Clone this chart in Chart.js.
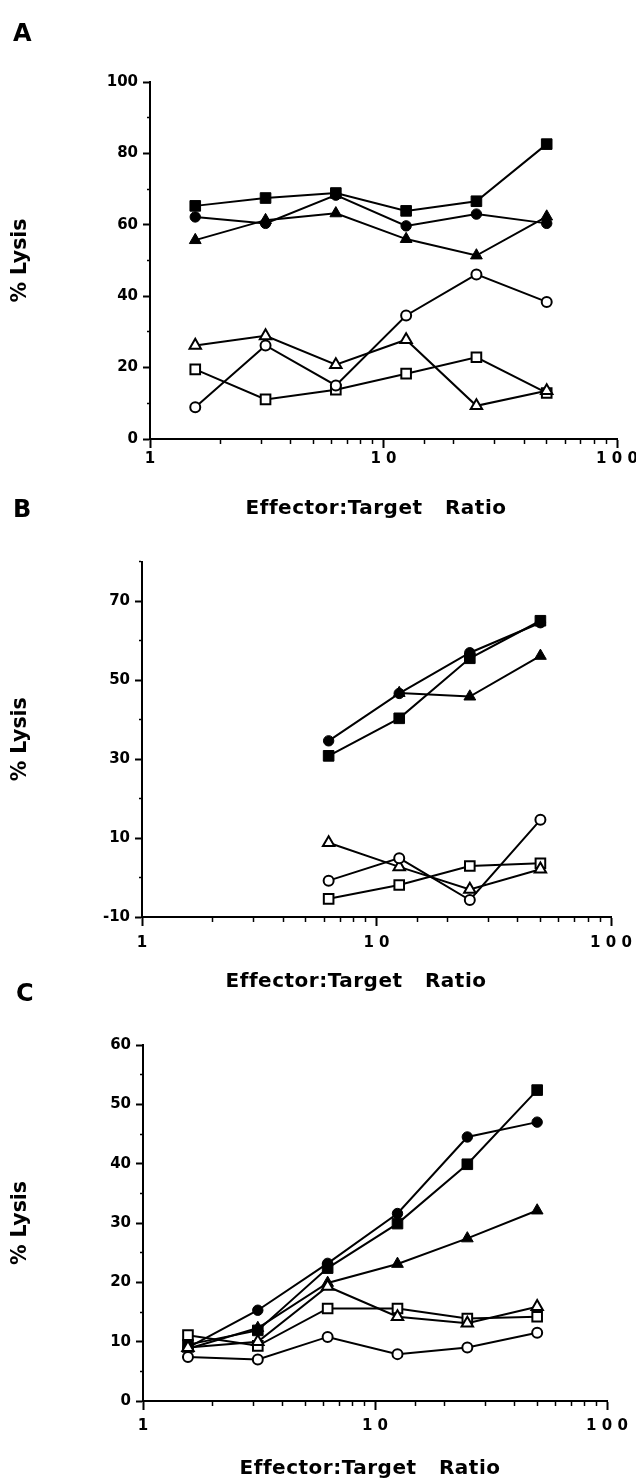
<!DOCTYPE html>
<html>
<head>
<meta charset="utf-8">
<script src="https://cdn.jsdelivr.net/npm/chart.js@4.4.1/dist/chart.umd.min.js"></script>
<style>
  html, body { margin: 0; padding: 0; background: #fff; }
  body {
    position: relative;
    width: 636px;
    height: 1480px;
    overflow: hidden;
    font-family: 'DejaVu Sans', 'Liberation Sans', sans-serif;
    font-weight: bold;
    color: #000;
  }
  .panel { position: absolute; left: 0; width: 680px; }
  .letter { position: absolute; font-size: 24px; line-height: 1; }
  .xtitle {
    position: absolute;
    font-size: 20px;
    line-height: 1;
    letter-spacing: 0.5px;
    white-space: pre;
    transform: translate(-50%, -50%);
  }
</style>
</head>
<body>
<!-- canvases are a bit wider than the page so the "1 0 0" label does not squeeze the plot -->
<div class="panel" style="top:0;height:525px"><canvas id="chartA" width="680" height="525"></canvas></div>
<div class="panel" style="top:490px;height:510px"><canvas id="chartB" width="680" height="510"></canvas></div>
<div class="panel" style="top:975px;height:505px"><canvas id="chartC" width="680" height="505"></canvas></div>

<div class="letter" style="left:13px;top:21px">A</div>
<div class="letter" style="left:13px;top:497px">B</div>
<div class="letter" style="left:16px;top:981px">C</div>

<div class="xtitle" style="left:376px;top:507px">Effector:Target   Ratio</div>
<div class="xtitle" style="left:356px;top:980px">Effector:Target   Ratio</div>
<div class="xtitle" style="left:370px;top:1467px">Effector:Target   Ratio</div>

<script>
// effector:target ratios (2-fold dilutions from 50)
const ratioA = [1.5625, 3.125, 6.25, 12.5, 25, 50];
const ratioB = [6.25, 12.5, 25, 50];
const ratioC = [1.5625, 3.125, 6.25, 12.5, 25, 50];

const xTickValues = [1, 10, 100];
const xTickText = ['1', '1 0', '1 0 0'];

// panel A, % lysis
const aFilledSquare   = [65.3, 67.5, 68.9, 63.9, 66.6, 82.6];
const aFilledCircle   = [62.2, 60.4, 68.3, 59.7, 63.0, 60.4];
const aFilledTriangle = [55.7, 61.3, 63.2, 56.0, 51.4, 62.3];
const aOpenCircle     = [8.9, 26.2, 15.0, 34.6, 46.1, 38.4];
const aOpenTriangle   = [26.2, 28.9, 20.8, 27.8, 9.3, 13.5];
const aOpenSquare     = [19.5, 11.1, 13.8, 18.3, 22.9, 12.9];
const aYLabels = [0, 20, 40, 60, 80, 100];

// panel B
const bFilledSquare   = [30.8, 40.3, 55.5, 65.0];
const bFilledCircle   = [34.6, 46.6, 56.9, 64.5];
const bFilledTriangle = [null, 46.7, 45.8, 56.1];
const bOpenCircle     = [-0.8, 4.9, -5.7, 14.6];
const bOpenTriangle   = [8.8, 2.7, -3.0, 2.1];
const bOpenSquare     = [-5.4, -1.9, 2.9, 3.6];
const bYLabels = [-10, 10, 30, 50, 70];

// panel C
const cFilledSquare   = [9.5, 11.9, 22.4, 29.9, 39.9, 52.4];
const cFilledCircle   = [9.0, 15.3, 23.2, 31.6, 44.5, 47.0];
const cFilledTriangle = [8.8, 12.3, 19.9, 23.1, 27.4, 32.1];
const cOpenCircle     = [7.4, 7.0, 10.8, 7.9, 9.0, 11.5];
const cOpenTriangle   = [9.0, 10.0, 19.3, 14.2, 13.1, 15.9];
const cOpenSquare     = [11.1, 9.3, 15.6, 15.6, 13.9, 14.2];
const cYLabels = [0, 10, 20, 30, 40, 50, 60];

Chart.defaults.font.family = "'DejaVu Sans', 'Liberation Sans', sans-serif";
Chart.defaults.color = '#000';

const shapes = {
  openCircle:     { style: 'circle',   radius: 5,   open: true },
  openTriangle:   { style: 'triangle', radius: 6.6, open: true },
  openSquare:     { style: 'rect',     radius: 6.8, open: true },
  filledCircle:   { style: 'circle',   radius: 5.2, open: false },
  filledSquare:   { style: 'rect',     radius: 7.5, open: false },
  filledTriangle: { style: 'triangle', radius: 6.8, open: false },
};

const isDecade = (v) => xTickValues.some((d) => Math.abs(v - d) < 1e-6);

function makeSeries(name, xs, ys) {
  const shape = shapes[name];
  return {
    label: name,
    data: xs.map((x, i) => ({ x: x, y: ys[i] })),
    borderColor: '#000',
    borderWidth: 2,
    pointStyle: shape.style,
    pointRadius: shape.radius,
    pointHoverRadius: shape.radius,
    pointBorderWidth: shape.open ? 2 : 1,
    pointBackgroundColor: shape.open ? '#fff' : '#000',
    pointBorderColor: '#000',
    tension: 0,
  };
}

function drawPanel(id, p) {
  const datasets = Object.keys(p.series).map((name) => makeSeries(name, p.x, p.series[name]));

  return new Chart(document.getElementById(id), {
    type: 'line',
    data: { datasets: datasets },
    options: {
      responsive: false,
      animation: false,
      layout: { padding: { top: p.top, right: 680 - p.right, left: 0, bottom: 0 } },
      plugins: { legend: { display: false }, tooltip: { enabled: false } },
      scales: {
        x: {
          type: 'logarithmic',
          min: 1,
          max: 100,
          afterFit: (scale) => { scale.height = p.xHeight; },
          border: { display: true, color: '#000', width: 2 },
          grid: {
            drawOnChartArea: false,
            tickColor: '#000',
            tickLength: 9,
            tickWidth: (ctx) => (isDecade(ctx.tick.value) ? 2 : 1.5),
            tickBorderDash: (ctx) => (isDecade(ctx.tick.value) ? [] : [4, 20]),
          },
          ticks: {
            autoSkip: false,
            maxRotation: 0,
            padding: p.xPad,
            font: { size: 15, weight: 'bold' },
            callback: (v) => {
              const i = xTickValues.findIndex((d) => Math.abs(v - d) < 1e-6);
              return i >= 0 ? xTickText[i] : '';
            },
          },
        },
        y: {
          min: p.yMin,
          max: p.yMax,
          afterFit: (scale) => { scale.width = p.yWidth; },
          border: { display: true, color: '#000', width: 2 },
          grid: {
            drawOnChartArea: false,
            tickColor: '#000',
            tickLength: 7,
            tickWidth: (ctx) => (p.yLabels.includes(ctx.tick.value) ? 2 : 1.5),
            tickBorderDash: (ctx) => (p.yLabels.includes(ctx.tick.value) ? [] : [3, 4]),
            tickBorderDashOffset: (ctx) => (p.yLabels.includes(ctx.tick.value) ? 0 : 3),
          },
          ticks: {
            stepSize: p.yStep,
            padding: 5,
            font: { size: 15, weight: 'bold' },
            callback: (v) => (p.yLabels.includes(v) ? String(v) : ''),
          },
          title: {
            display: true,
            text: '% Lysis',
            font: { size: 20.5, weight: 'bold' },
            padding: { top: 8, bottom: 0 },
          },
        },
      },
    },
  });
}

drawPanel('chartA', {
  x: ratioA,
  series: {
    openCircle: aOpenCircle,
    openTriangle: aOpenTriangle,
    openSquare: aOpenSquare,
    filledCircle: aFilledCircle,
    filledSquare: aFilledSquare,
    filledTriangle: aFilledTriangle,
  },
  yMin: 0, yMax: 100, yStep: 10, yLabels: aYLabels,
  top: 82, right: 617, yWidth: 150, xHeight: 86, xPad: 2,
});

drawPanel('chartB', {
  x: ratioB,
  series: {
    openCircle: bOpenCircle,
    openTriangle: bOpenTriangle,
    openSquare: bOpenSquare,
    filledCircle: bFilledCircle,
    filledSquare: bFilledSquare,
    filledTriangle: bFilledTriangle,
  },
  yMin: -10, yMax: 80, yStep: 10, yLabels: bYLabels,
  top: 71.5, right: 611, yWidth: 142, xHeight: 83, xPad: 8,
});

drawPanel('chartC', {
  x: ratioC,
  series: {
    openCircle: cOpenCircle,
    openTriangle: cOpenTriangle,
    openSquare: cOpenSquare,
    filledCircle: cFilledCircle,
    filledSquare: cFilledSquare,
    filledTriangle: cFilledTriangle,
  },
  yMin: 0, yMax: 60, yStep: 5, yLabels: cYLabels,
  top: 70, right: 607, yWidth: 143, xHeight: 79, xPad: 7,
});
</script>
</body>
</html>
